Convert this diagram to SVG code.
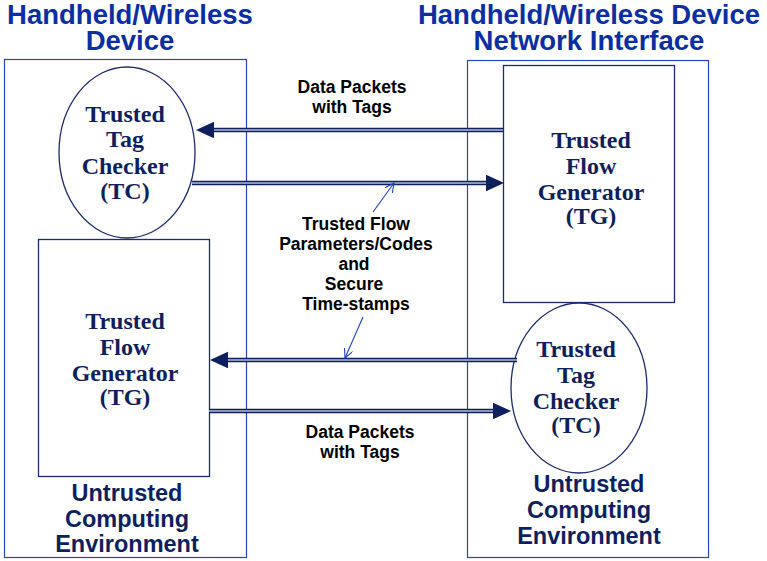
<svg xmlns="http://www.w3.org/2000/svg" width="767" height="561" viewBox="0 0 767 561">
  <style>
    .domain { fill: none; stroke: #2a44b4; stroke-width: 1.2; }
    .unit { fill: #ffffff; stroke: #1c2b6b; stroke-width: 1.3; }
    .title { font-family: "Liberation Sans", Arial, sans-serif; font-weight: bold; font-size: 27.5px; fill: #0b2ea3; text-anchor: middle; }
    .env { font-family: "Liberation Sans", Arial, sans-serif; font-weight: bold; font-size: 23.5px; fill: #0f1f5e; text-anchor: middle; }
    .node-label { font-family: "Liberation Serif", "Times New Roman", serif; font-weight: bold; font-size: 24px; fill: #0f1f5e; text-anchor: middle; }
    .flow-label { font-family: "Liberation Sans", Arial, sans-serif; font-weight: bold; font-size: 17.5px; fill: #000000; text-anchor: middle; }
    .pipe { fill: none; stroke: #0d1f5c; stroke-width: 4.6; }
    .pipe-core { fill: none; stroke: #b4bdd4; stroke-width: 1.6; }
    .pointer { fill: none; stroke: #2240c0; stroke-width: 1.1; }
  </style>
  <defs>
    <marker id="head" markerUnits="userSpaceOnUse" markerWidth="18" markerHeight="17" refX="0" refY="8.3" orient="auto">
      <path d="M0,0 L18,8.3 L0,16.6 Z" fill="#0d1f5c"/>
    </marker>
    <marker id="vhead" markerUnits="userSpaceOnUse" markerWidth="12" markerHeight="12" refX="9" refY="4.5" orient="auto">
      <path d="M0,0 L9,4.5 L0,9" fill="none" stroke="#2240c0" stroke-width="1.1"/>
    </marker>
  </defs>

  <!-- Handheld / wireless device side -->
  <g id="device">
    <rect class="domain" x="4.5" y="59.5" width="242" height="498"/>
    <text class="title" x="130" y="23.5">Handheld/Wireless</text>
    <text class="title" x="130" y="50">Device</text>
    <text class="env" x="127" y="501">Untrusted</text>
    <text class="env" x="127" y="527">Computing</text>
    <text class="env" x="127" y="552">Environment</text>
  </g>

  <!-- Network interface side -->
  <g id="network-interface">
    <rect class="domain" x="467.5" y="60.5" width="241" height="497"/>
    <text class="title" x="589" y="23.5">Handheld/Wireless Device</text>
    <text class="title" x="589" y="50">Network Interface</text>
    <text class="env" x="589" y="492">Untrusted</text>
    <text class="env" x="589" y="518">Computing</text>
    <text class="env" x="589" y="544">Environment</text>
  </g>

  <g id="device-tc">
    <ellipse class="unit" cx="127" cy="152.5" rx="68" ry="85.5"/>
    <text class="node-label" x="125" y="122">Trusted</text>
    <text class="node-label" x="125" y="147">Tag</text>
    <text class="node-label" x="125" y="174">Checker</text>
    <text class="node-label" x="125" y="199">(TC)</text>
  </g>

  <g id="device-tg">
    <rect class="unit" x="38.5" y="239.5" width="171" height="237"/>
    <text class="node-label" x="125" y="329">Trusted</text>
    <text class="node-label" x="125" y="355">Flow</text>
    <text class="node-label" x="125" y="381">Generator</text>
    <text class="node-label" x="125" y="405">(TG)</text>
  </g>

  <g id="network-tg">
    <rect class="unit" x="503.5" y="65.5" width="171" height="237"/>
    <text class="node-label" x="591" y="148">Trusted</text>
    <text class="node-label" x="591" y="174">Flow</text>
    <text class="node-label" x="591" y="200">Generator</text>
    <text class="node-label" x="591" y="224">(TG)</text>
  </g>

  <g id="network-tc">
    <ellipse class="unit" cx="579" cy="388" rx="68" ry="85"/>
    <text class="node-label" x="576" y="357">Trusted</text>
    <text class="node-label" x="576" y="383">Tag</text>
    <text class="node-label" x="576" y="409">Checker</text>
    <text class="node-label" x="576" y="433">(TC)</text>
  </g>

  <!-- Double-line flows between the two sides -->
  <g id="connectors">
    <path class="pipe" d="M503,130 L214,130" marker-end="url(#head)"/>
    <path class="pipe-core" d="M503,130 L214,130"/>
    <path class="pipe" d="M192,183 L486,183" marker-end="url(#head)"/>
    <path class="pipe-core" d="M192,183 L486,183"/>
    <path class="pipe" d="M517,360 L228,360" marker-end="url(#head)"/>
    <path class="pipe-core" d="M517,360 L228,360"/>
    <path class="pipe" d="M209,411 L493,411" marker-end="url(#head)"/>
    <path class="pipe-core" d="M209,411 L493,411"/>

    <path class="pointer" d="M373,212 L394,183" marker-end="url(#vhead)"/>
    <path class="pointer" d="M363,317 L345,358" marker-end="url(#vhead)"/>
  </g>

  <g id="flow-labels">
    <text class="flow-label" x="352" y="93">Data Packets</text>
    <text class="flow-label" x="352" y="113">with Tags</text>
    <text class="flow-label" x="356" y="230">Trusted Flow</text>
    <text class="flow-label" x="356" y="250">Parameters/Codes</text>
    <text class="flow-label" x="354" y="270">and</text>
    <text class="flow-label" x="354" y="290">Secure</text>
    <text class="flow-label" x="356" y="310">Time-stamps</text>
    <text class="flow-label" x="360" y="438">Data Packets</text>
    <text class="flow-label" x="360" y="458">with Tags</text>
  </g>
</svg>
